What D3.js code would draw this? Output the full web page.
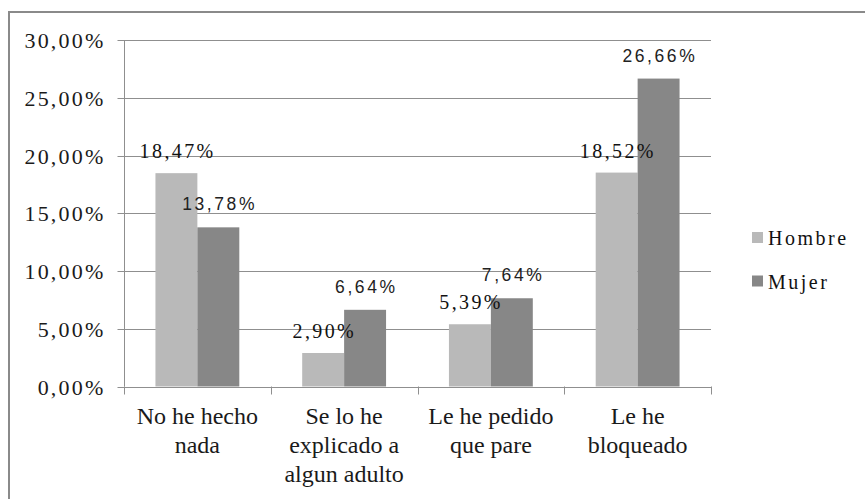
<!DOCTYPE html>
<html>
<head>
<meta charset="utf-8">
<script src="https://cdn.jsdelivr.net/npm/d3@7"></script>
<style>
  html, body { margin: 0; padding: 0; background: #fff; }
  svg { display: block; }
</style>
</head>
<body>
<svg id="chart" width="865" height="499"></svg>
<script>
const categories = [
  ["No he hecho", "nada"],
  ["Se lo he", "explicado a", "algun adulto"],
  ["Le he pedido", "que pare"],
  ["Le he", "bloqueado"]
];
const categoryKeys = ["No he hecho nada", "Se lo he explicado a algun adulto", "Le he pedido que pare", "Le he bloqueado"];
const seriesNames = ["Hombre", "Mujer"];
const hombreValues = [0.1847, 0.0290, 0.0539, 0.1852];
const mujerValues = [0.1378, 0.0664, 0.0764, 0.2666];
const yTicks = [0, 0.05, 0.10, 0.15, 0.20, 0.25, 0.30];
const colors = { Hombre: "#b9b9b9", Mujer: "#878787" };

const SERIF = "Liberation Serif";
const SANS = "Liberation Sans";

const svg = d3.select("#chart");
const fmt = v => (v * 100).toFixed(2).replace(".", ",") + "%";

// outer frame
svg.append("rect").attr("x", 9).attr("y", 12).attr("width", 900).attr("height", 600)
  .attr("fill", "none").attr("stroke", "#8a8a8a").attr("stroke-width", 2);

const x0 = d3.scaleBand().domain(categoryKeys).range([124, 711]).padding(0);
const x1 = d3.scaleBand().domain(seriesNames).range([0, x0.bandwidth()]).paddingInner(0).paddingOuter(0.75);
const y = d3.scaleLinear().domain([0, 0.30]).range([386.5, 40]);

// gridlines
svg.append("g").selectAll("line").data(yTicks.filter(t => t > 0)).join("line")
  .attr("x1", 124).attr("x2", 711)
  .attr("y1", d => Math.round(y(d)) + 0.5).attr("y2", d => Math.round(y(d)) + 0.5)
  .attr("stroke", "#8f8f8f").attr("stroke-width", 1);

// y axis
const yAxis = d3.axisLeft(y).tickValues(yTicks).tickSize(7).tickFormat(fmt);
const gy = svg.append("g").attr("transform", "translate(124.5,0)").call(yAxis);
gy.attr("font-family", SERIF).attr("font-size", 22);
gy.select(".domain").attr("stroke", "#8f8f8f").attr("d", `M0,${y(0.30)}V${y(0)}`);
gy.selectAll(".tick line").attr("stroke", "#8f8f8f");
gy.selectAll(".tick").attr("transform", d => `translate(0,${Math.round(y(d)) + 0.5})`);
gy.selectAll(".tick text")
  .attr("font-family", SERIF)
  .attr("font-size", 22)
  .attr("letter-spacing", 2.2)
  .attr("x", -19).attr("dy", "0.33em")
  .attr("fill", "#1a1a1a");

// bars
const groups = svg.append("g").selectAll("g").data(categoryKeys).join("g")
  .attr("transform", d => `translate(${x0(d)},0)`);
groups.selectAll("rect").data((d, i) => [
  { s: "Hombre", v: hombreValues[i] },
  { s: "Mujer", v: mujerValues[i] }
]).join("rect")
  .attr("x", d => x1(d.s))
  .attr("y", d => y(d.v))
  .attr("width", x1.bandwidth())
  .attr("height", d => y(0) - y(d.v))
  .attr("fill", d => colors[d.s]);

// x axis baseline and ticks
const xAxisG = svg.append("g");
xAxisG.append("line").attr("x1", 124).attr("x2", 711).attr("y1", Math.round(y(0)) + 0.5).attr("y2", Math.round(y(0)) + 0.5)
  .attr("stroke", "#8f8f8f");
const boundaries = categoryKeys.map(k => x0(k)).concat([x0.range()[1]]);
xAxisG.selectAll("line.tk").data(boundaries).join("line").attr("class", "tk")
  .attr("x1", d => Math.round(d) + 0.5).attr("x2", d => Math.round(d) + 0.5)
  .attr("y1", y(0)).attr("y2", y(0) + 8)
  .attr("stroke", "#8f8f8f");

// category labels
categories.forEach((lines, i) => {
  const cx = x0(categoryKeys[i]) + x0.bandwidth() / 2;
  const t = svg.append("text")
    .attr("font-family", SERIF)
    .attr("font-size", 24)
    .attr("text-anchor", "middle")
    .attr("fill", "#1a1a1a");
  lines.forEach((ln, j) => {
    t.append("tspan").attr("x", cx).attr("y", 424 + j * 29).text(ln);
  });
});

// value labels
const valueLabels = svg.append("g");
categoryKeys.forEach((k, i) => {
  const ls = 2.4;
  valueLabels.append("text")
    .attr("font-family", SERIF)
    .attr("font-size", 20)
    .attr("letter-spacing", ls)
    .attr("x", x0(k) + x1("Hombre") + x1.bandwidth() / 2 + ls / 2)
    .attr("y", y(hombreValues[i]) - 15)
    .attr("text-anchor", "middle")
    .attr("fill", "#111")
    .text(fmt(hombreValues[i]));
  const ls2 = 2.6;
  valueLabels.append("text")
    .attr("font-family", SANS)
    .attr("font-size", 17.5)
    .attr("letter-spacing", ls2)
    .attr("x", x0(k) + x1("Mujer") + x1.bandwidth() / 2 + ls2 / 2)
    .attr("y", y(mujerValues[i]) - 17)
    .attr("text-anchor", "middle")
    .attr("fill", "#222")
    .text(fmt(mujerValues[i]));
});

// legend
const legend = svg.append("g");
seriesNames.forEach((s, i) => {
  const yy = 232 + i * 43.5;
  legend.append("rect").attr("x", 752).attr("y", yy).attr("width", 11).attr("height", 11).attr("fill", colors[s]);
  legend.append("text")
    .attr("font-family", SERIF)
    .attr("font-size", 20)
    .attr("letter-spacing", 2.5)
    .attr("x", 768).attr("y", yy + 13)
    .attr("fill", "#111")
    .text(s);
});
</script>
</body>
</html>
